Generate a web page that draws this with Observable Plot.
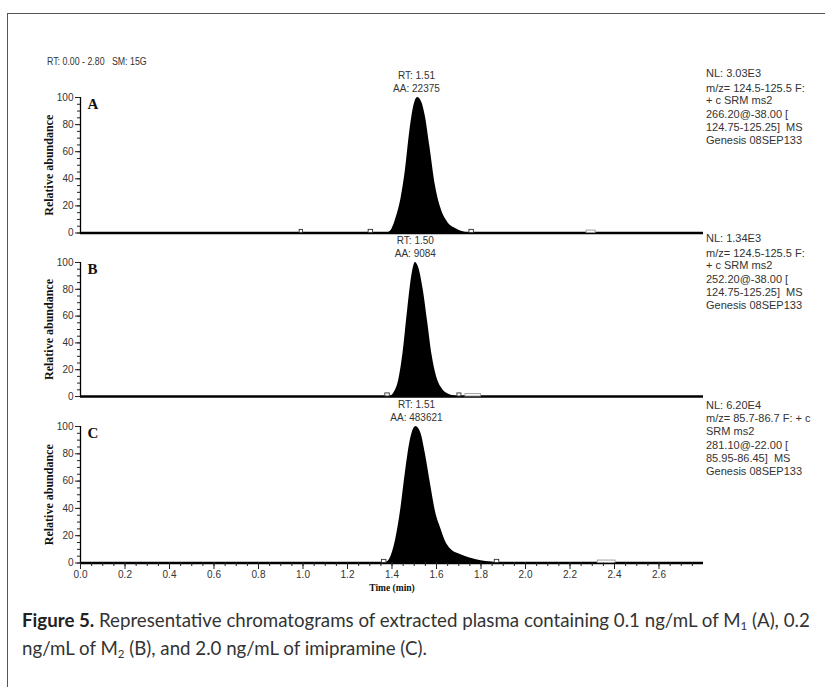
<!DOCTYPE html>
<html><head><meta charset="utf-8">
<script src="https://cdn.jsdelivr.net/npm/d3@7"></script>
<script src="https://cdn.jsdelivr.net/npm/@observablehq/plot@0.6"></script>
<style>
html,body{margin:0;padding:0;background:#fff;width:825px;height:687px;overflow:hidden}
#root{position:relative;width:825px;height:687px}
.abs{position:absolute}
.frame{left:7px;top:13px;width:840px;height:700px;border:1.5px solid #555;box-sizing:border-box}
.hdr{font-family:"Liberation Sans Narrow","Arial Narrow","Liberation Sans",sans-serif;font-size:10px;color:#333;white-space:pre;line-height:12px;transform:scaleX(0.88);transform-origin:0 50%}
.note{font-family:"Liberation Sans",Arial,sans-serif;font-size:11px;color:#333;white-space:pre;line-height:13px}
.cap{font-family:Lato,"Open Sans",sans-serif;font-size:18.7px;color:#333;white-space:nowrap;line-height:28px}
.cap b{font-weight:700;color:#222}
.cap sub{font-size:11.5px;vertical-align:-3px;line-height:0}
.panel{position:absolute;left:0}
</style></head>
<body><div id="root">
<div class="abs frame"></div>
<div class="abs hdr" style="left:47px;top:56px">RT: 0.00 - 2.80   SM: 15G</div>
</div>
<script>
// ---- data ----
const panelLetters = ["A", "B", "C"];
const rtLabels = ["RT: 1.51", "RT: 1.50", "RT: 1.51"];
const aaLabels = ["AA: 22375", "AA: 9084", "AA: 483621"];
const peakRT = [1.51, 1.505, 1.51];

const timeA = [1.38, 1.40, 1.42, 1.44, 1.46, 1.48, 1.50, 1.515, 1.535, 1.55, 1.57, 1.595, 1.62, 1.65, 1.69, 1.74];
const abundA = [0, 3, 12, 25, 46, 75, 95, 100, 96, 86, 64, 35, 18, 8, 3, 0];

const timeB = [1.39, 1.41, 1.43, 1.45, 1.47, 1.49, 1.505, 1.52, 1.54, 1.56, 1.58, 1.60, 1.62, 1.65, 1.69];
const abundB = [0, 3, 12, 33, 64, 91, 100, 96, 80, 56, 31, 15, 7, 2, 0];

const timeC = [1.37, 1.39, 1.415, 1.44, 1.46, 1.485, 1.508, 1.53, 1.55, 1.575, 1.595, 1.62, 1.64, 1.665, 1.71, 1.75, 1.80, 1.845, 1.87];
const abundC = [0, 3, 16, 40, 66, 92, 100, 95, 80, 56, 38, 25, 16, 10, 6, 3.7, 1.7, 0.7, 0];

// small boundary markers on the baseline (start, end in min)
const markStartA = [0.985, 1.295, 1.748];
const markEndA   = [1.000, 1.315, 1.768];
const greyStartA = [2.275];
const greyEndA   = [2.315];
const markStartB = [1.370, 1.694];
const markEndB   = [1.390, 1.712];
const greyStartB = [1.73];
const greyEndB   = [1.80];
const markStartC = [1.355, 1.862];
const markEndC   = [1.375, 1.882];
const greyStartC = [2.325];
const greyEndC   = [2.405];

const yTicks = [0, 20, 40, 60, 80, 100];
const yMinorTicks = d3.range(0, 101, 5);
const xTicks = [0.0, 0.2, 0.4, 0.6, 0.8, 1.0, 1.2, 1.4, 1.6, 1.8, 2.0, 2.2, 2.4, 2.6];
const xMinorTicks = d3.range(0, 2.76, 0.05);
const xDomain = [0, 2.8];

const notesA = ["NL: 3.03E3", "m/z= 124.5-125.5 F:", "+ c SRM ms2", "266.20@-38.00 [", "124.75-125.25]  MS", "Genesis 08SEP133"];
const notesB = ["NL: 1.34E3", "m/z= 124.5-125.5 F:", "+ c SRM ms2", "252.20@-38.00 [", "124.75-125.25]  MS", "Genesis 08SEP133"];
const notesC = ["NL: 6.20E4", "m/z= 85.7-86.7 F: + c", "SRM ms2", "281.10@-22.00 [", "85.95-86.45]  MS", "Genesis 08SEP133"];

// ---- layout ----
const panels = [
  {time: timeA, abund: abundA, ms: markStartA, me: markEndA, gs: greyStartA, ge: greyEndA, y100: 97, y0: 232.5, notes: notesA, noteY: [73.3, 88.3, 100.7, 114, 127.3, 140], xAxis: false},
  {time: timeB, abund: abundB, ms: markStartB, me: markEndB, gs: greyStartB, ge: greyEndB, y100: 262, y0: 396, notes: notesB, noteY: [238.3, 253.3, 265.7, 279, 292.3, 305], xAxis: false},
  {time: timeC, abund: abundC, ms: markStartC, me: markEndC, gs: greyStartC, ge: greyEndC, y100: 425.5, y0: 562, notes: notesC, noteY: [405, 418.3, 431.7, 445, 458.3, 471.7], xAxis: true}
];

const root = document.getElementById("root");
const narrow = '"Liberation Sans Narrow","Arial Narrow","Liberation Sans",sans-serif';
const serif = '"Liberation Serif","Times New Roman",serif';

panels.forEach((p, i) => {
  const mt = 34, mb = p.xAxis ? 40 : 6;
  const plotH = p.y0 - p.y100;
  const data = p.time.map((t, k) => ({t, v: p.abund[k]}));
  const small = p.ms.map((a, k) => ({a, b: p.me[k]}));
  const grey = p.gs.map((a, k) => ({a, b: p.ge[k]}));
  const marks = [
    Plot.areaY(data, {x: "t", y: "v", fill: "black", curve: "monotone-x"}),
    Plot.ruleY([0], {x1: xDomain[0], x2: xDomain[1], stroke: "black", strokeWidth: 2.6}),
    Plot.rect(small, {x1: "a", x2: "b", y1: 0, y2: 2.3, fill: "white", stroke: "#333", strokeWidth: 0.9}),
    Plot.rect(grey, {x1: "a", x2: "b", y1: 0, y2: 1.8, fill: "white", stroke: "#999", strokeWidth: 0.9}),
    Plot.ruleX([0], {y1: 0, y2: 100, stroke: "black", strokeWidth: 1.3}),
    Plot.axisY({ticks: yMinorTicks, tickSize: 3, text: null, label: null, stroke: "#222"}),
    Plot.axisY({ticks: yTicks, tickSize: 5, tickPadding: 2, label: null, stroke: "#222", fill: "#333", fontSize: 10}),
    Plot.text([panelLetters[i]], {x: 0, y: 100, dx: 7, dy: 7, textAnchor: "start", fontFamily: serif, fontWeight: "bold", fontSize: 15, fill: "#111"}),
    Plot.text(["Relative abundance"], {x: 0, y: 50, dx: -31, rotate: -90, fontFamily: serif, fontWeight: "bold", fontSize: 12, fill: "#111"}),
    Plot.text([rtLabels[i]], {x: peakRT[i], y: 100, dy: -22, fontSize: 10, fill: "#333"}),
    Plot.text([aaLabels[i]], {x: peakRT[i], y: 100, dy: -8.5, fontSize: 10, fill: "#333"})
  ];
  if (p.xAxis) {
    marks.push(
      Plot.axisX({ticks: xMinorTicks, tickSize: 3.5, text: null, label: null, stroke: "#222"}),
      Plot.axisX({ticks: xTicks, tickSize: 6.5, tickPadding: 1.5, tickFormat: d => d.toFixed(1), label: null, stroke: "#222", fill: "#333", fontSize: 10}),
      Plot.text(["Time (min)"], {x: 1.4, y: 0, dy: 25, fontFamily: serif, fontWeight: "bold", fontSize: 9.5, fill: "#111"})
    );
  }
  const chart = Plot.plot({
    width: 825,
    height: mt + plotH + mb,
    marginLeft: 80, marginRight: 122, marginTop: mt, marginBottom: mb,
    x: {domain: xDomain, axis: null},
    y: {domain: [0, 100], axis: null},
    style: {background: "transparent", fontFamily: narrow, fontSize: "10px", color: "#222", overflow: "visible"},
    marks
  });
  chart.classList.add("panel");
  chart.style.top = (p.y100 - mt) + "px";
  root.appendChild(chart);

  p.notes.forEach((line, k) => {
    const d = document.createElement("div");
    d.className = "abs note";
    d.style.left = "706px";
    d.style.top = (p.noteY[k] - 6.5) + "px";
    d.textContent = line;
    root.appendChild(d);
  });
});

const cap = document.createElement("div");
cap.className = "abs cap";
cap.style.left = "22px";
cap.style.top = "606px";
cap.innerHTML = '<b>Figure 5.</b> Representative chromatograms of extracted plasma containing 0.1 ng/mL of M<sub>1</sub> (A), 0.2<br>ng/mL of M<sub>2</sub> (B), and 2.0 ng/mL of imipramine (C).';
root.appendChild(cap);
</script>
</body></html>
